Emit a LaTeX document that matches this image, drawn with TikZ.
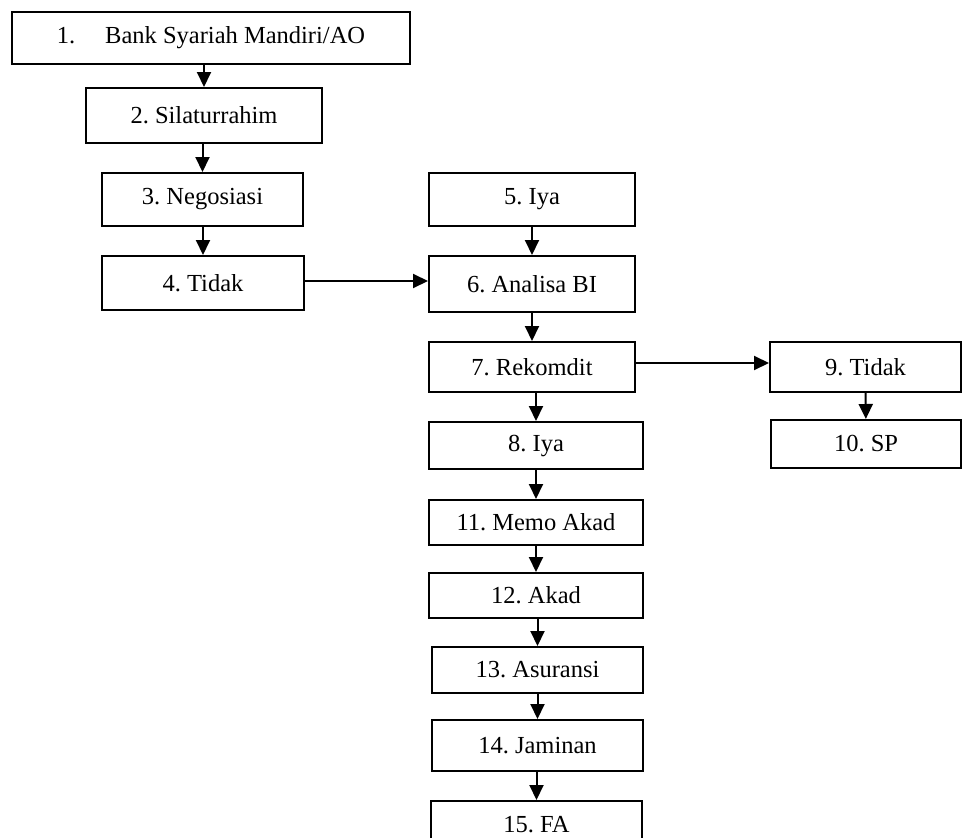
\documentclass[tikz,border=0pt]{standalone}
\usepackage{fontspec}
\setmainfont{Liberation Serif}
\usepackage{tikz}
\usetikzlibrary{arrows.meta,positioning}
\frenchspacing

\begin{document}
\begin{tikzpicture}[x=1pt, y=-1pt]
    \tikzstyle{block} = [rectangle, draw, line width=2pt, inner sep=0pt, text centered, font=\fontsize{24.5}{28}\selectfont]
    \tikzstyle{arrow} = [line width=2pt, -{Triangle[length=15pt,width=14pt]}]

    \useasboundingbox (0,0) rectangle (962,838);
    \clip (0,0) rectangle (962,838);

    % left column
    \node [block, minimum width=398pt, minimum height=52pt] (bank) at (211,38) {1.\hspace{30pt}Bank Syariah Mandiri/AO};
    \node [block, minimum width=236pt, minimum height=55pt] (silaturrahim) at (204,115.5) {2. Silaturrahim};
    \node [block, minimum width=201pt, minimum height=53pt] (negosiasi) at (202.5,199.5) {3. Negosiasi};
    \node [block, minimum width=202pt, minimum height=54pt] (tidakA) at (203,283) {4. Tidak};

    % middle column
    \node [block, minimum width=206pt, minimum height=53pt] (iyaA) at (532,199.5) {5. Iya};
    \node [block, minimum width=206pt, minimum height=56pt] (analisa) at (532,284) {6. Analisa BI};
    \node [block, minimum width=206pt, minimum height=50pt] (rekomdit) at (532,367) {7. Rekomdit};
    \node [block, minimum width=214pt, minimum height=47pt] (iyaB) at (536,445.5) {8. Iya};
    \node [block, minimum width=214pt, minimum height=45pt] (memo) at (536,522.5) {11. Memo Akad};
    \node [block, minimum width=214pt, minimum height=45pt] (akad) at (536,595.5) {12. Akad};
    \node [block, minimum width=211pt, minimum height=46pt] (asuransi) at (537.5,670) {13. Asuransi};
    \node [block, minimum width=211pt, minimum height=51pt] (jaminan) at (537.5,745.5) {14. Jaminan};
    \node [block, minimum width=211pt, minimum height=48pt] (fa) at (536.5,825) {15. FA};

    % right column
    \node [block, minimum width=191pt, minimum height=50pt] (tidakB) at (865.5,367) {9. Tidak};
    \node [block, minimum width=190pt, minimum height=48pt] (sp) at (866,444) {10. SP};

    \draw [arrow] (bank.south -| silaturrahim.north) -- (silaturrahim.north);
    \draw [arrow] (silaturrahim.south -| negosiasi.north) -- (negosiasi.north);
    \draw [arrow] (negosiasi.south -| tidakA.north) -- (tidakA.north);
    \draw [arrow] ([yshift=2pt]tidakA.east) -- ([yshift=2pt]tidakA.east -| analisa.west);
    \draw [arrow] (iyaA) -- (analisa);
    \draw [arrow] (analisa) -- (rekomdit);
    \draw [arrow] ([yshift=4pt]rekomdit.east) -- ([yshift=4pt]rekomdit.east -| tidakB.west);
    \draw [arrow] (tidakB) -- (sp);
    \draw [arrow] (rekomdit.south -| iyaB.north) -- (iyaB.north);
    \draw [arrow] (iyaB) -- (memo);
    \draw [arrow] (memo) -- (akad);
    \draw [arrow] (akad.south -| asuransi.north) -- (asuransi.north);
    \draw [arrow] (asuransi) -- (jaminan);
    \draw [arrow] (jaminan.south -| fa.north) -- (fa.north);
\end{tikzpicture}
\end{document}
